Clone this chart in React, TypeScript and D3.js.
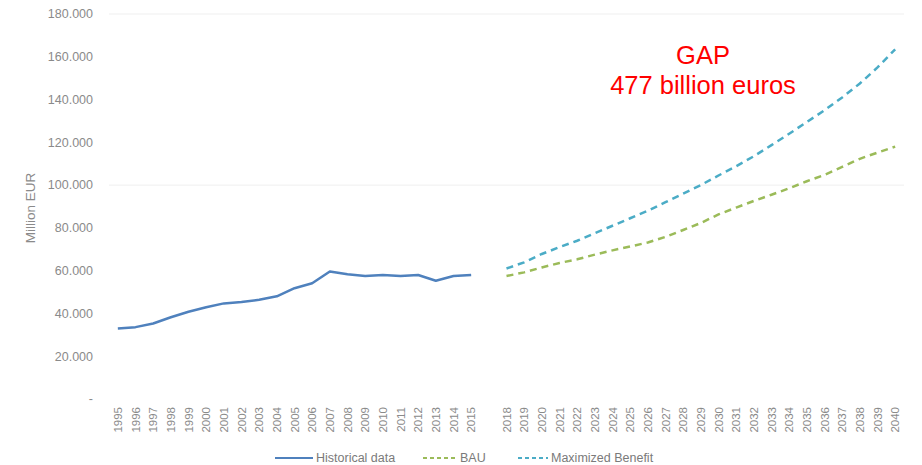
import React, { useRef, useEffect } from 'react';
import * as d3 from 'd3';

const histYears = [
  '1995', '1996', '1997', '1998', '1999', '2000', '2001', '2002', '2003', '2004', '2005',
  '2006', '2007', '2008', '2009', '2010', '2011', '2012', '2013', '2014', '2015',
];
const histValues = [
  33000, 33600, 35300, 38200, 40800, 42900, 44700, 45300, 46400, 48000, 51800,
  54100, 59600, 58300, 57500, 58000, 57500, 58000, 55300, 57500, 58000,
];

const projYears = [
  '2018', '2019', '2020', '2021', '2022', '2023', '2024', '2025', '2026', '2027', '2028', '2029',
  '2030', '2031', '2032', '2033', '2034', '2035', '2036', '2037', '2038', '2039', '2040',
];
const bauValues = [
  57500, 59200, 61500, 63600, 65300, 67500, 69500, 71300, 73200, 75800, 79000, 82300,
  86300, 89500, 92600, 95500, 98500, 101800, 104800, 108500, 112300, 115200, 118000,
];
const maxValues = [
  61000, 63900, 67800, 71000, 74000, 77500, 81000, 84500, 88000, 92000, 96000, 100000,
  104500, 108800, 113500, 118700, 124000, 129500, 135000, 141000, 147500, 155000, 163500,
];

// one empty column sits between the historical and projected years
const categories = [...histYears, 'gap', ...projYears];
const yTicks = [0, 20000, 40000, 60000, 80000, 100000, 120000, 140000, 160000, 180000];
const gridTicks = [100000, 180000];

const legendItems = [
  { label: 'Historical data', color: '#4f81bd', dash: null },
  { label: 'BAU', color: '#9bbb59', dash: '4,3' },
  { label: 'Maximized Benefit', color: '#4bacc6', dash: '4,3' },
];

const width = 922;
const height = 465;
const font = '"Liberation Sans", Arial, sans-serif';

const locale = d3.formatLocale({ decimal: ',', thousands: '.', grouping: [3], currency: ['', ''] });
const fmt = locale.format(',');

const App = () => {
  const chartRef = useRef(null);

  useEffect(() => {
    const svg = d3.select(chartRef.current);
    svg.selectAll('*').remove();

    const x = d3.scaleBand().domain(categories).range([109, 904]);
    const cx = (c) => x(c) + x.bandwidth() / 2;
    const y = d3.scaleLinear().domain([0, 180000]).range([399, 14]);

    // grid
    svg
      .append('g')
      .selectAll('line')
      .data(gridTicks)
      .enter()
      .append('line')
      .attr('x1', 109)
      .attr('x2', 904)
      .attr('y1', (d) => y(d))
      .attr('y2', (d) => y(d))
      .attr('stroke', '#efefef')
      .attr('stroke-width', 1);

    // y axis labels
    svg
      .append('g')
      .selectAll('text')
      .data(yTicks)
      .enter()
      .append('text')
      .attr('x', 93)
      .attr('y', (d) => y(d))
      .attr('dy', '0.35em')
      .attr('text-anchor', 'end')
      .attr('font-family', font)
      .attr('font-size', 12.5)
      .attr('fill', '#8a8a8a')
      .text((d) => (d === 0 ? '-' : fmt(d)));

    svg
      .append('text')
      .attr('transform', 'translate(35, 208) rotate(-90)')
      .attr('text-anchor', 'middle')
      .attr('font-family', font)
      .attr('font-size', 13.5)
      .attr('fill', '#8a8a8a')
      .text('Million EUR');

    // x axis labels
    svg
      .append('g')
      .selectAll('text')
      .data(categories.filter((c) => c !== 'gap'))
      .enter()
      .append('text')
      .attr('transform', (d) => `translate(${cx(d) + 4}, 407) rotate(-90)`)
      .attr('text-anchor', 'end')
      .attr('font-family', font)
      .attr('font-size', 11.5)
      .attr('fill', '#8a8a8a')
      .text((d) => d);

    const line = d3
      .line()
      .x((d) => cx(d[0]))
      .y((d) => y(d[1]));

    svg
      .append('path')
      .datum(d3.zip(histYears, histValues))
      .attr('fill', 'none')
      .attr('stroke', '#4f81bd')
      .attr('stroke-width', 2.5)
      .attr('stroke-linejoin', 'round')
      .attr('d', line);

    svg
      .append('path')
      .datum(d3.zip(projYears, bauValues))
      .attr('fill', 'none')
      .attr('stroke', '#9bbb59')
      .attr('stroke-width', 2.5)
      .attr('stroke-dasharray', '7,5')
      .attr('d', line);

    svg
      .append('path')
      .datum(d3.zip(projYears, maxValues))
      .attr('fill', 'none')
      .attr('stroke', '#4bacc6')
      .attr('stroke-width', 2.5)
      .attr('stroke-dasharray', '7,5')
      .attr('d', line);

    // annotation
    const note = svg
      .append('text')
      .attr('text-anchor', 'middle')
      .attr('font-family', font)
      .attr('font-size', 25.5)
      .attr('fill', '#ff0000');
    note.append('tspan').attr('x', 703).attr('y', 64).text('GAP');
    note.append('tspan').attr('x', 703).attr('y', 94).text('477 billion euros');

    // legend
    const legendX = [275, 423, 518];
    const legendW = [38, 34, 30];
    const lg = svg
      .append('g')
      .selectAll('g')
      .data(legendItems)
      .enter()
      .append('g')
      .attr('transform', (d, i) => `translate(${legendX[i]}, 458)`);

    lg.append('line')
      .attr('x1', 0)
      .attr('x2', (d, i) => legendW[i])
      .attr('y1', 0)
      .attr('y2', 0)
      .attr('stroke', (d) => d.color)
      .attr('stroke-width', 2)
      .attr('stroke-dasharray', (d) => d.dash);

    lg.append('text')
      .attr('x', (d, i) => legendW[i] + 3)
      .attr('y', 0)
      .attr('dy', '0.35em')
      .attr('font-family', font)
      .attr('font-size', 12.5)
      .attr('fill', '#7a7a7a')
      .text((d) => d.label);
  }, []);

  return (
    <div style={{ position: 'absolute', left: 0, top: 0 }}>
      <svg ref={chartRef} width={width} height={height} style={{ display: 'block' }}></svg>
    </div>
  );
};

export default App;
